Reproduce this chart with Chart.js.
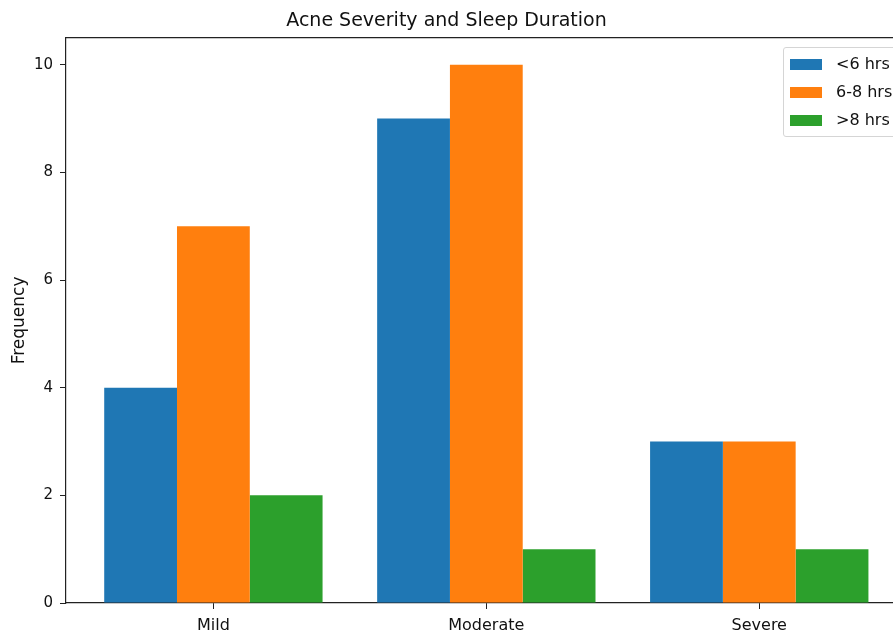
<!DOCTYPE html>
<html>
<head>
<meta charset="utf-8">
<script src="https://cdn.jsdelivr.net/npm/chart.js@4"></script>
<style>
  html, body { margin: 0; padding: 0; background: #fff; overflow: hidden; }
  #wrap { position: relative; width: 893px; height: 634px; }
  #legend {
    position: absolute; left: 783px; top: 47px; width: 130px; height: 88px;
    border: 1px solid #d5d5d5; border-radius: 3px; background: rgba(255,255,255,0.8);
    font-family: "DejaVu Sans", sans-serif; font-size: 16px; color: #111;
  }
  #legend div { position: absolute; left: 6px; height: 20px; line-height: 20px; white-space: nowrap; }
  #legend span { display: inline-block; width: 32px; height: 11px; margin-right: 14px; vertical-align: -1px; }
</style>
</head>
<body>
<div id="wrap">
  <canvas id="myChart" width="893" height="634"></canvas>
  <div id="legend"></div>
</div>
<script>
const categories = ['Mild', 'Moderate', 'Severe'];
const seriesNames = ['<6 hrs', '6-8 hrs', '>8 hrs'];
const lessThan6 = [4, 9, 3];
const between6and8 = [7, 10, 3];
const moreThan8 = [2, 1, 1];
const yTicks = [0, 2, 4, 6, 8, 10];
const colors = ['#1f77b4', '#ff7f0e', '#2ca02c'];

const seriesValues = [lessThan6, between6and8, moreThan8];

// legend
const legendBox = document.getElementById('legend');
seriesNames.forEach(function(name, i) {
  const row = document.createElement('div');
  row.style.top = (6 + i * 28) + 'px';
  row.innerHTML = '<span style="background:' + colors[i] + '"></span>' + name.replace('<', '&lt;').replace('>', '&gt;');
  legendBox.appendChild(row);
});

const data = {
  datasets: seriesValues.map(function(vals, i) {
    return {
      label: seriesNames[i],
      data: vals.map(function(v, j) { return { x: j, y: v }; }),
      backgroundColor: colors[i],
      borderWidth: 0,
      barPercentage: 1.0,
      categoryPercentage: 0.8
    };
  })
};

const config = {
  type: 'bar',
  data,
  options: {
    responsive: false,
    animation: false,
    layout: { padding: 0 },
    plugins: {
      legend: { display: false },
      tooltip: { enabled: false },
      title: {
        display: true,
        text: 'Acne Severity and Sleep Duration',
        color: '#111',
        font: { family: 'DejaVu Sans', size: 19, weight: 'normal' },
        padding: { top: 10, bottom: 5 }
      }
    },
    scales: {
      x: {
        type: 'linear',
        offset: false,
        min: -0.54,
        max: 2.49,
        afterBuildTicks: function(scale) {
          scale.ticks = categories.map(function(c, j) { return { value: j }; });
        },
        afterFit: function(scale) { scale.height = 31; },
        ticks: {
          color: '#111',
          font: { family: 'DejaVu Sans', size: 16 },
          padding: 7,
          maxRotation: 0,
          callback: function(v) { return categories[v]; }
        },
        grid: { display: true, offset: false, drawOnChartArea: false, drawTicks: true, tickLength: 6, color: '#222' },
        border: { display: true, color: '#222', width: 1.2 }
      },
      x2: {
        type: 'linear',
        position: 'top',
        offset: false,
        min: -0.54,
        max: 2.49,
        afterFit: function(scale) { scale.height = 0; },
        ticks: { display: false },
        grid: { display: false },
        border: { display: true, color: '#222', width: 1.2 }
      },
      y: {
        min: 0,
        max: 10.5,
        afterBuildTicks: function(scale) {
          scale.ticks = yTicks.map(function(v) { return { value: v }; });
        },
        afterFit: function(scale) { scale.width = 66; },
        ticks: { color: '#111', font: { family: 'DejaVu Sans', size: 15 }, padding: 7 },
        grid: { display: true, drawOnChartArea: false, drawTicks: true, tickLength: 6, color: '#222' },
        border: { display: true, color: '#222', width: 1.2 },
        title: {
          display: true,
          text: 'Frequency',
          color: '#111',
          font: { family: 'DejaVu Sans', size: 17 },
          padding: { top: 9, bottom: 0 }
        }
      }
    }
  }
};

const myChart = new Chart(document.getElementById('myChart'), config);
</script>
</body>
</html>
